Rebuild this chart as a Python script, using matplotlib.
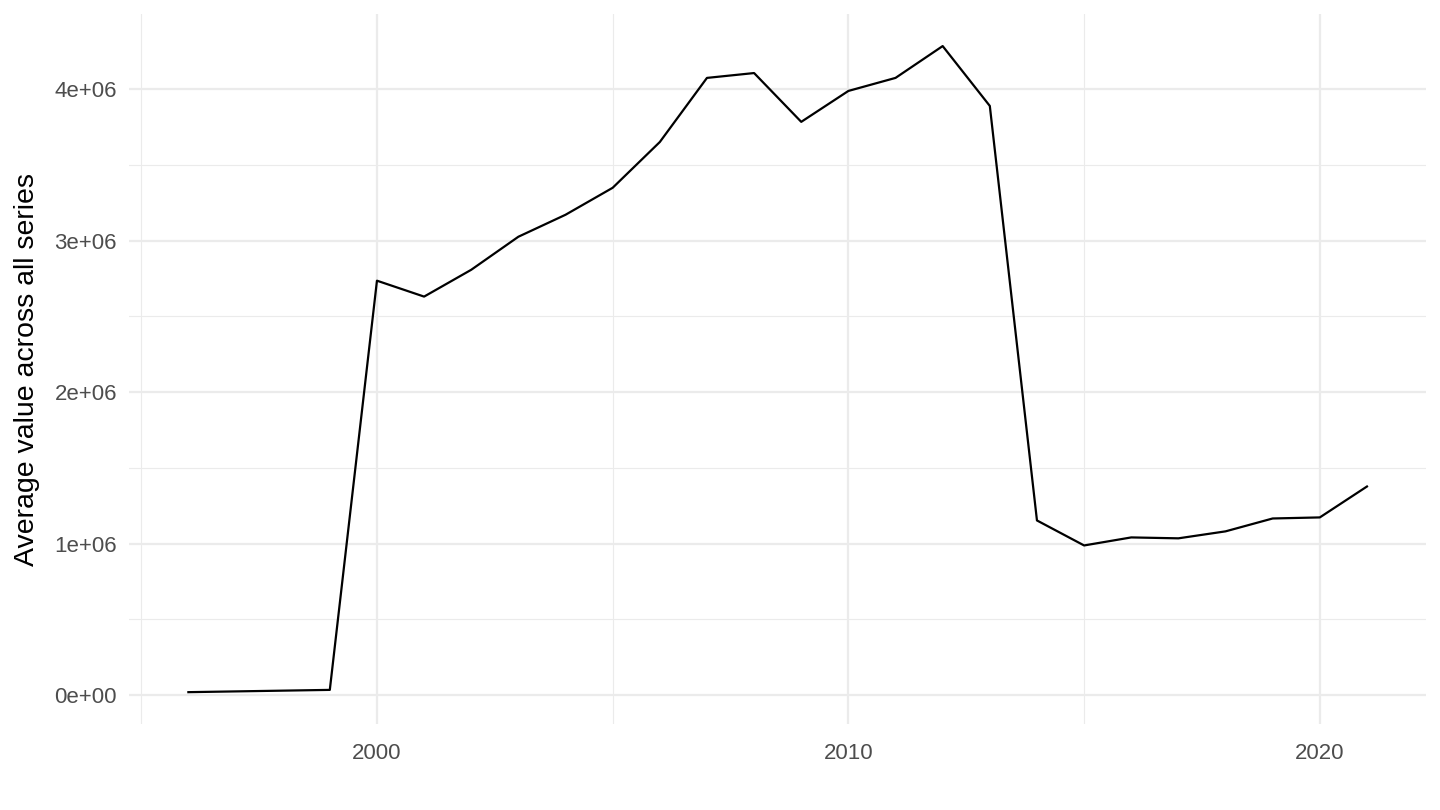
import numpy as np
import matplotlib.pyplot as plt

# Years and average values
years = [1996, 1999, 2000, 2001, 2002, 2003, 2004, 2005, 2006, 2007, 2008,
         2009, 2010, 2011, 2012, 2013, 2014, 2015, 2016, 2017, 2018, 2019,
         2020, 2021]
values = [0.020e6, 0.035e6, 2.735e6, 2.630e6, 2.807e6, 3.025e6, 3.170e6,
          3.348e6, 3.650e6, 4.073e6, 4.105e6, 3.783e6, 3.987e6, 4.073e6,
          4.283e6, 3.888e6, 1.153e6, 0.988e6, 1.041e6, 1.035e6, 1.081e6,
          1.166e6, 1.173e6, 1.377e6]

x_major = [2000, 2010, 2020]
x_minor = [1995, 2005, 2015]
y_major = [0, 1e6, 2e6, 3e6, 4e6]
y_labels = ['0e+00', '1e+06', '2e+06', '3e+06', '4e+06']
y_minor = [0.5e6, 1.5e6, 2.5e6, 3.5e6]

plt.rcParams['font.family'] = ['Liberation Sans', 'DejaVu Sans']

fig = plt.figure(figsize=(14.4, 8.1), dpi=100)
ax = fig.add_axes([0.0899, 0.1056, 0.9003, 0.8774])

# ggplot-like limits with 5% expansion
x0, x1 = min(years), max(years)
xr = x1 - x0
ax.set_xlim(x0 - 0.05 * xr, x1 + 0.05 * xr)
y0, y1 = min(values), max(values)
yr = y1 - y0
ax.set_ylim(y0 - 0.05 * yr, y1 + 0.05 * yr)

# grid
for x in x_minor:
    ax.axvline(x, color='#EBEBEB', linewidth=0.8, zorder=0)
for x in x_major:
    ax.axvline(x, color='#EBEBEB', linewidth=1.6, zorder=0)
for y in y_minor:
    ax.axhline(y, color='#EBEBEB', linewidth=0.8, zorder=0)
for y in y_major:
    ax.axhline(y, color='#EBEBEB', linewidth=1.6, zorder=0)

ax.plot(years, values, color='black', linewidth=1.6, zorder=3)

ax.set_xticks(x_major)
ax.set_xticklabels([str(x) for x in x_major])
ax.set_yticks(y_major)
ax.set_yticklabels(y_labels)
ax.tick_params(length=0, labelsize=16, labelcolor='#4D4D4D')
ax.tick_params(axis='x', pad=13)
ax.tick_params(axis='y', pad=9)
for s in ax.spines.values():
    s.set_visible(False)

ax.set_ylabel('Average value across all series', fontsize=20.5, color='black', labelpad=10)

fig.savefig('out.png', dpi=100)
